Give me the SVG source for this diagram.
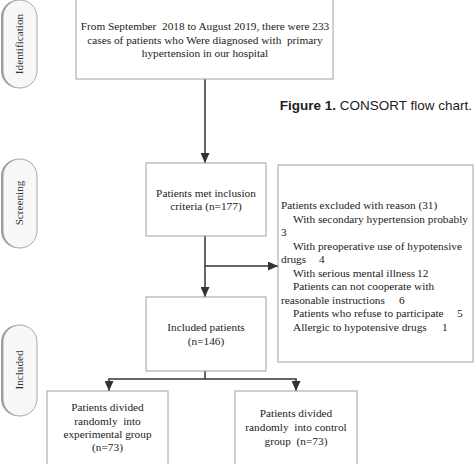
<svg xmlns="http://www.w3.org/2000/svg" width="474" height="464" viewBox="0 0 474 464">
<defs>
<marker id="ah" markerUnits="userSpaceOnUse" markerWidth="10" markerHeight="9" refX="10" refY="4.5" orient="auto">
<path d="M0,0 L10,4.5 L0,9 z" fill="#333"/>
</marker>
<style>
.box{fill:#fff;stroke:#a0a0a0;stroke-width:1}
.t{font-family:"Liberation Serif","Times New Roman",serif;font-size:11.3px;fill:#222;white-space:pre}
.c{text-anchor:middle}
.conn{stroke:#333;stroke-width:1.5;fill:none}
.pillsh{fill:#9a9a9a}
.pill{fill:#f7f7f7;stroke:#a8a8a8;stroke-width:1}
.pt{font-family:"Liberation Serif","Times New Roman",serif;font-size:11.2px;fill:#333;text-anchor:middle}
</style>
</defs>
<rect width="474" height="464" fill="#fff"/>

<g id="stage-identification">
<rect class="pillsh" x="1" y="0" width="34" height="88" rx="17"/>
<rect class="pill" x="3" y="0" width="34" height="88" rx="17"/>
<text class="pt" transform="translate(23,44) rotate(-90)">Identification</text>
</g>
<g id="stage-screening">
<rect class="pillsh" x="1" y="159" width="34" height="89" rx="17"/>
<rect class="pill" x="3" y="159" width="34" height="89" rx="17"/>
<text class="pt" transform="translate(23,203) rotate(-90)">Screening</text>
</g>
<g id="stage-included">
<rect class="pillsh" x="1" y="325" width="34" height="91" rx="17"/>
<rect class="pill" x="3" y="325" width="34" height="91" rx="17"/>
<text class="pt" transform="translate(23,370) rotate(-90)">Included</text>
</g>

<g id="caption">
<text x="472" y="110" text-anchor="end" font-family="'Liberation Sans',Arial,sans-serif" font-size="13.5" fill="#222"><tspan font-weight="bold">Figure 1.</tspan> CONSORT flow chart.</text>
</g>

<g id="connectors">
<line class="conn" x1="205" y1="79" x2="205" y2="163" marker-end="url(#ah)"/>
<line class="conn" x1="205" y1="236" x2="205" y2="297" marker-end="url(#ah)"/>
<line class="conn" x1="205" y1="266" x2="278" y2="266" marker-end="url(#ah)"/>
<line class="conn" x1="205" y1="371" x2="205" y2="379"/>
<line class="conn" x1="108.25" y1="379" x2="296.75" y2="379"/>
<line class="conn" x1="109" y1="379" x2="109" y2="391" marker-end="url(#ah)"/>
<line class="conn" x1="296" y1="379" x2="296" y2="391" marker-end="url(#ah)"/>
</g>

<g id="node-identified">
<rect class="box" x="76" y="-1" width="257" height="80"/>
<text class="t c" x="205" y="30">From September  2018 to August 2019, there were 233</text>
<text class="t c" x="205" y="44">cases of patients who Were diagnosed with  primary</text>
<text class="t c" x="205" y="57">hypertension in our hospital</text>
</g>

<g id="node-inclusion">
<rect class="box" x="146" y="163" width="120" height="73"/>
<text class="t c" x="206" y="197">Patients met inclusion</text>
<text class="t c" x="206" y="210">criteria (n=177)</text>
</g>

<g id="node-excluded">
<rect class="box" x="278" y="165" width="195" height="197"/>
<text class="t" x="281" y="209">Patients excluded with reason (31)</text>
<text class="t" x="293" y="222.5">With secondary hypertension probably</text>
<text class="t" x="281" y="236">3</text>
<text class="t" x="293" y="249.5">With preoperative use of hypotensive</text>
<text class="t" x="281" y="263">drugs<tspan x="319">4</tspan></text>
<text class="t" x="293" y="276.5">With serious mental illness<tspan x="417">12</tspan></text>
<text class="t" x="293" y="290">Patients can not cooperate with</text>
<text class="t" x="281" y="303.5">reasonable instructions<tspan x="399">6</tspan></text>
<text class="t" x="293" y="317">Patients who refuse to participate<tspan x="457">5</tspan></text>
<text class="t" x="293" y="330.5">Allergic to hypotensive drugs<tspan x="442">1</tspan></text>
</g>

<g id="node-included">
<rect class="box" x="146" y="297" width="120" height="74"/>
<text class="t c" x="206" y="331">Included patients</text>
<text class="t c" x="206" y="345">(n=146)</text>
</g>

<g id="node-experimental">
<rect class="box" x="47" y="391" width="121" height="80"/>
<text class="t c" x="107.5" y="411">Patients divided</text>
<text class="t c" x="107.5" y="425">randomly  into</text>
<text class="t c" x="107.5" y="438">experimental group</text>
<text class="t c" x="107.5" y="451">(n=73)</text>
</g>

<g id="node-control">
<rect class="box" x="235" y="391" width="122" height="80"/>
<text class="t c" x="296" y="417">Patients divided</text>
<text class="t c" x="296" y="431">randomly  into control</text>
<text class="t c" x="296" y="445">group  (n=73)</text>
</g>
</svg>
